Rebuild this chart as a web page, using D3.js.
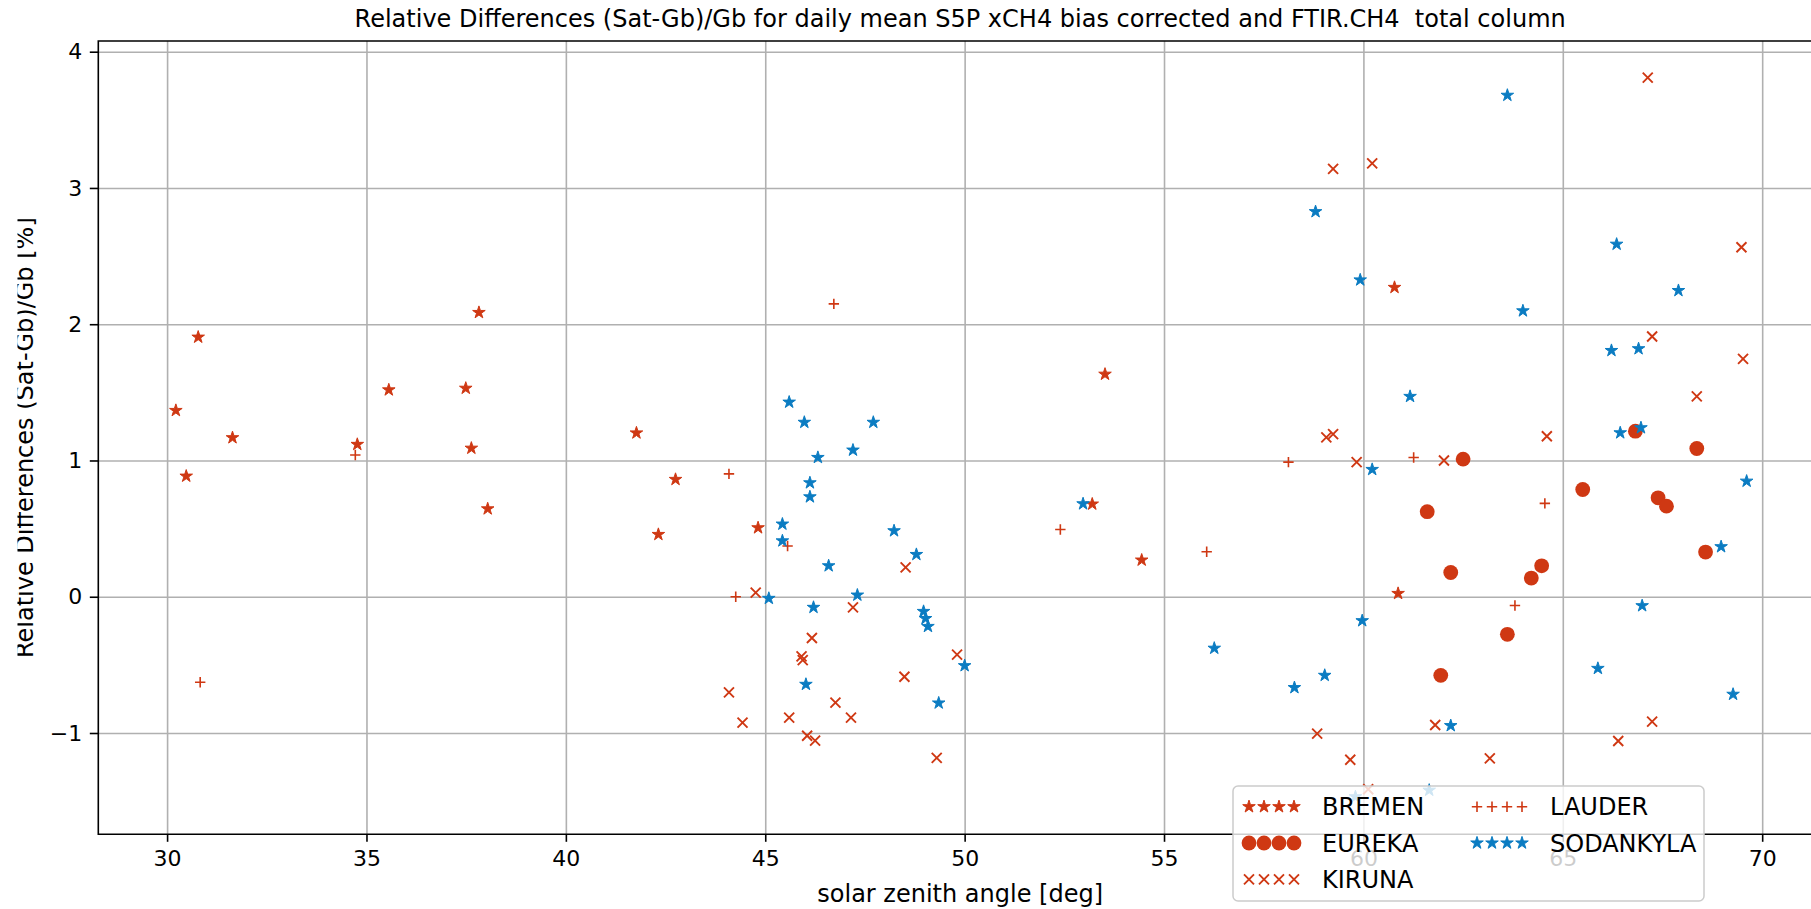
<!DOCTYPE html>
<html>
<head>
<meta charset="utf-8">
<script src="https://cdn.jsdelivr.net/npm/d3@7"></script>
<style>
  body { margin: 0; background: #fff; }
  svg { display: block; }
  text { font-family: "DejaVu Sans", sans-serif; fill: #000; }
</style>
</head>
<body>
<svg id="chart" width="1811" height="909"></svg>
<script>
// Relative differences (Sat-Gb)/Gb [%] against solar zenith angle [deg], per FTIR station.
const bremenSza  = [30.22, 30.48, 30.78, 31.64, 34.77, 35.56, 37.49, 37.63, 37.82, 38.04, 41.77, 42.32, 42.75, 44.82, 53.20, 53.52, 54.44, 60.78, 60.87];
const bremenDiff = [1.367, 0.885, 1.905, 1.167, 1.118, 1.518, 1.530, 1.090, 2.086, 0.645, 1.202, 0.457, 0.861, 0.506, 0.680, 1.633, 0.269, 2.270, 0.024];

const eurekaSza  = [61.60, 61.94, 62.19, 62.50, 63.61, 64.21, 64.47, 65.50, 66.82, 67.39, 67.60, 68.36, 68.58];
const eurekaDiff = [0.624, -0.577, 0.178, 1.010, -0.276, 0.137, 0.227, 0.787, 1.215, 0.726, 0.665, 1.088, 0.328];

const kirunaSza  = [44.09, 44.43, 44.76, 45.60, 45.91, 45.94, 46.05, 46.17, 46.25, 46.76, 47.15, 47.20, 48.49, 48.52, 49.30, 49.81,
                    58.84, 59.07, 59.24, 59.24, 59.67, 59.83, 60.12, 60.22, 61.80, 62.02, 63.17, 64.60, 66.39, 67.13, 67.24, 67.24, 68.36, 69.48, 69.52];
const kirunaDiff = [-0.702, -0.924, 0.030, -0.887, -0.438, -0.465, -1.020, -0.303, -1.056, -0.777, -0.887, -0.078, -0.587, 0.215, -1.183, -0.425,
                    -1.005, 1.170, 1.193, 3.140, -1.196, 0.988, -1.413, 3.180, -0.941, 1.000, -1.186, 1.178, -1.059, 3.810, 1.910, -0.917, 1.470, 2.565, 1.746];

const lauderSza  = [30.83, 34.72, 44.09, 44.26, 45.56, 46.72, 52.40, 56.07, 58.12, 61.26, 63.80, 64.55];
const lauderDiff = [-0.628, 1.040, 0.902, 0.000, 0.372, 2.149, 0.494, 0.330, 0.988, 1.022, -0.064, 0.685];

const sodankylaSza  = [45.09, 45.43, 45.43, 45.60, 45.98, 46.02, 46.12, 46.12, 46.21, 46.32, 46.59, 47.20, 47.31, 47.71, 48.23, 48.79,
                       48.97, 49.02, 49.08, 49.35, 50.00, 52.97, 56.26, 58.27, 58.80, 59.03, 59.80, 59.92, 59.97, 60.22, 61.17, 61.65,
                       62.19, 63.61, 64.00, 65.88, 66.22, 66.35, 66.44, 66.90, 66.96, 66.99, 67.90, 68.97, 69.27, 69.61];
const sodankylaDiff = [-0.012, 0.533, 0.410, 1.428, 1.280, -0.643, 0.836, 0.733, -0.078, 1.022, 0.227, 1.076, 0.012, 1.280, 0.484, 0.310,
                       -0.108, -0.160, -0.218, -0.780, -0.506, 0.682, -0.378, -0.667, 2.826, -0.577, -1.468, 2.325, -0.176, 0.934, 1.470, -1.420,
                       -0.946, 3.680, 2.098, -0.526, 1.807, 2.587, 1.203, 1.820, 1.240, -0.066, 2.247, 0.367, -0.716, 0.848];

const stationNames = ["BREMEN", "EUREKA", "KIRUNA", "LAUDER", "SODANKYLA"];
const xTicks = [30, 35, 40, 45, 50, 55, 60, 65, 70];
const yTicks = [-1, 0, 1, 2, 3, 4];

const titleText = "Relative Differences (Sat-Gb)/Gb for daily mean S5P xCH4 bias corrected and FTIR.CH4\u00a0\u00a0total column";
const xLabel = "solar zenith angle [deg]";
const yLabel = "Relative Differences (Sat-Gb)/Gb [%]";

const RED = "#cf3813", BLUE = "#0b7cc2";

const stations = [
  { name: stationNames[0], sza: bremenSza,    diff: bremenDiff,    marker: "star",   color: RED },
  { name: stationNames[1], sza: eurekaSza,    diff: eurekaDiff,    marker: "circle", color: RED },
  { name: stationNames[2], sza: kirunaSza,    diff: kirunaDiff,    marker: "x",      color: RED },
  { name: stationNames[3], sza: lauderSza,    diff: lauderDiff,    marker: "plus",   color: RED },
  { name: stationNames[4], sza: sodankylaSza, diff: sodankylaDiff, marker: "star",   color: BLUE }
];

const svg = d3.select("#chart");
const box = { left: 98.3, top: 41, bottom: 834.3, right: 1822 };

const x = d3.scaleLinear().domain([28.275, 71.5]).range([box.left, box.right]);
const y = d3.scaleLinear().domain([-1.7434, 4.0785]).range([box.bottom, box.top]);

const fmt = d3.format("d");
const TICK_FS = 22, LABEL_FS = 24;

// grid
const grid = svg.append("g").attr("class", "grid");
grid.append("g")
  .attr("transform", `translate(0,${box.bottom})`)
  .call(d3.axisBottom(x).tickValues(xTicks).tickSize(-(box.bottom - box.top)).tickFormat(""))
  .call(g => g.select(".domain").remove())
  .call(g => g.selectAll("line").attr("stroke", "#b0b0b0").attr("stroke-width", 1.6));
grid.append("g")
  .attr("transform", `translate(${box.left},0)`)
  .call(d3.axisLeft(y).tickValues(yTicks).tickSize(-(box.right - box.left)).tickFormat(""))
  .call(g => g.select(".domain").remove())
  .call(g => g.selectAll("line").attr("stroke", "#b0b0b0").attr("stroke-width", 1.6));

// marker shapes
function starPath(R) {
  const r = R * 0.381966, pts = [];
  for (let i = 0; i < 10; i++) {
    const a = -Math.PI / 2 + i * Math.PI / 5, rr = i % 2 ? r : R;
    pts.push([rr * Math.cos(a), rr * Math.sin(a)]);
  }
  return "M" + pts.map(p => p[0].toFixed(2) + "," + p[1].toFixed(2)).join("L") + "Z";
}
const STAR = starPath(6.6);
function drawMarker(g, kind, color) {
  if (kind === "star") {
    g.append("path").attr("d", STAR).attr("fill", color).attr("stroke", color).attr("stroke-width", 1).attr("stroke-linejoin", "round");
  } else if (kind === "circle") {
    g.append("circle").attr("r", 7.4).attr("fill", color);
  } else if (kind === "x") {
    g.append("path").attr("d", "M-5,-5L5,5M-5,5L5,-5").attr("stroke", color).attr("stroke-width", 1.9).attr("fill", "none");
  } else if (kind === "plus") {
    g.append("path").attr("d", "M-5.2,0L5.2,0M0,-5.2L0,5.2").attr("stroke", color).attr("stroke-width", 1.6).attr("fill", "none");
  }
}

// data
const pts = svg.append("g").attr("class", "points");
stations.forEach(s => {
  const gs = pts.append("g").attr("class", s.name);
  s.sza.forEach((v, i) => {
    const g = gs.append("g").attr("transform", `translate(${x(v)},${y(s.diff[i])})`);
    drawMarker(g, s.marker, s.color);
  });
});

// axes with ticks
const xAxis = svg.append("g")
  .attr("transform", `translate(0,${box.bottom})`)
  .call(d3.axisBottom(x).tickValues(xTicks).tickFormat(fmt).tickSize(7.5).tickPadding(9))
  .call(g => g.select(".domain").remove());
xAxis.selectAll("line").attr("stroke", "#000").attr("stroke-width", 1.6);
xAxis.selectAll("text").attr("font-size", TICK_FS).attr("fill", "#000").style("font-family", '"DejaVu Sans", sans-serif');

const yAxis = svg.append("g")
  .attr("transform", `translate(${box.left},0)`)
  .call(d3.axisLeft(y).tickValues(yTicks).tickFormat(fmt).tickSize(8.5).tickPadding(7.5))
  .call(g => g.select(".domain").remove());
yAxis.selectAll("line").attr("stroke", "#000").attr("stroke-width", 1.6);
yAxis.selectAll("text").attr("font-size", TICK_FS).attr("fill", "#000").style("font-family", '"DejaVu Sans", sans-serif');

// spines
svg.append("path")
  .attr("d", `M${box.right},${box.top}H${box.left}V${box.bottom}H${box.right}`)
  .attr("fill", "none").attr("stroke", "#000").attr("stroke-width", 1.6);

// title and labels
svg.append("text").attr("x", (box.left + box.right) / 2).attr("y", 27.3)
  .attr("text-anchor", "middle").attr("font-size", LABEL_FS).text(titleText);
svg.append("text").attr("x", (box.left + box.right) / 2).attr("y", 902)
  .attr("text-anchor", "middle").attr("font-size", LABEL_FS).text(xLabel);

// the y label runs off the left edge of the canvas, so its glyph tops are cut
svg.append("clipPath").attr("id", "ylabClip")
  .append("rect").attr("x", 17.5).attr("y", 0).attr("width", 80).attr("height", 909);
svg.append("g").attr("clip-path", "url(#ylabClip)")
  .append("text")
  .attr("transform", `translate(33,${(box.top + box.bottom) / 2}) rotate(-90)`)
  .attr("text-anchor", "middle").attr("font-size", LABEL_FS).text(yLabel);

// legend
const leg = svg.append("g").attr("class", "legend");
leg.append("rect").attr("x", 1233).attr("y", 786).attr("width", 471).attr("height", 115)
  .attr("rx", 5).attr("fill", "#fff").attr("fill-opacity", 0.8)
  .attr("stroke", "#cccccc").attr("stroke-width", 1.5);
const colX = [1249, 1477], textX = [1322, 1550], rowY = [806.7, 843, 879.3];
stations.forEach((s, i) => {
  const col = i < 3 ? 0 : 1, row = i < 3 ? i : i - 3;
  for (let k = 0; k < 4; k++) {
    const g = leg.append("g").attr("transform", `translate(${colX[col] + k * 15},${rowY[row]})`);
    drawMarker(g, s.marker, s.color);
  }
  leg.append("text").attr("x", textX[col]).attr("y", rowY[row] + 8.7)
    .attr("font-size", LABEL_FS).text(s.name);
});
</script>
</body>
</html>
